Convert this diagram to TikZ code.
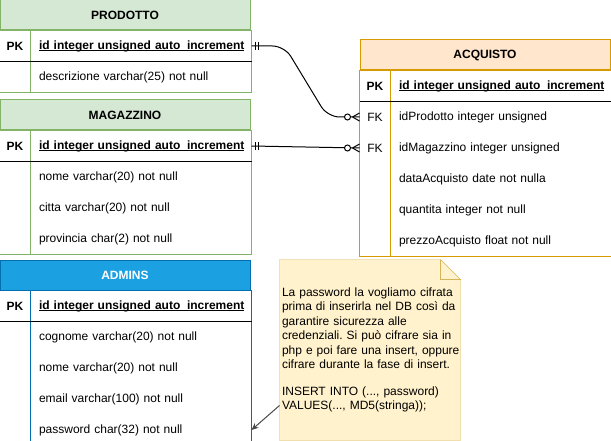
\documentclass[tikz,border=0pt]{standalone}
\usepackage{fontspec}
\setmainfont{Liberation Sans}
\usetikzlibrary{positioning}
\usetikzlibrary{arrows.meta}
\usetikzlibrary{backgrounds}
\definecolor{headgreen}{HTML}{D5E8D4}
\definecolor{linegreen}{HTML}{82B366}
\definecolor{headorange}{HTML}{FFE6CC}
\definecolor{lineorange}{HTML}{D79B00}
\definecolor{headblue}{HTML}{1BA1E2}
\definecolor{lineblue}{HTML}{006EAF}
\definecolor{notefill}{HTML}{FFF2CC}
\definecolor{noteline}{HTML}{D6B656}
% underlined key field
\newcommand{\ulkey}[1]{\setbox0\hbox{#1}\rlap{\rule[-1.6pt]{\wd0}{0.9pt}}\box0}
\tikzset{
    every node/.style={
        font=\fontsize{12}{14.5}\selectfont},
    tabhead/.style={
        draw,
        minimum width=250pt,
        minimum height=30pt,
        inner sep=0pt,
        font=\fontsize{12}{14.5}\selectfont\bfseries},
    keycell/.style={
        minimum width=30pt,
        minimum height=30pt,
        inner sep=0pt},
    fieldcell/.style={
        minimum width=220pt,
        minimum height=30pt,
        inner ysep=0pt,
        inner xsep=8pt,
        text width=204pt,
        align=left},
    notebox/.style={
        minimum width=180pt,
        minimum height=180pt,
        inner xsep=2pt,
        text width=176pt,
        align=left,
        execute at begin node={\hyphenpenalty=10000\frenchspacing}},
    notearrow/.style={
        draw=black!70,
        -{Stealth[length=7pt,width=6pt,fill=black]}},
    mandone/.pic={
        \draw (4,-4) -- (4,4) (7,-4) -- (7,4);},
    zeromany/.pic={
        \draw (-7,0) -- (0,-4) (-7,0) -- (0,4);
        \draw[fill=white] (-12,0) circle[radius=3];}}

\begin{document}
\begin{tikzpicture}[x=1pt,y=-1pt,line width=1pt]
    \useasboundingbox (0,0) rectangle (611,441);

    % PRODOTTO
    \node[tabhead, fill=headgreen, draw=linegreen] (prod) at (125,15) {PRODOTTO};
    \node[keycell, anchor=north west] (pk0) at (prod.south west) {\textbf{PK}};
    \node[fieldcell, right=0pt of pk0] (pf0) {\textbf{\ulkey{id integer unsigned auto\_increment}}};
    \node[keycell, below=0pt of pk0] (pk1) {};
    \node[fieldcell, right=0pt of pk1] (pf1) {descrizione varchar(25) not null};
    \draw[linegreen] (prod.south west) rectangle (pf1.south east);
    \draw[linegreen] (pk0.north east) -- (pk1.south east);
    \draw (pk0.south west) -- (pf0.south east);

    % MAGAZZINO
    \node[tabhead, fill=headgreen, draw=linegreen] (mag) at (125,115) {MAGAZZINO};
    \node[keycell, anchor=north west] (mk0) at (mag.south west) {\textbf{PK}};
    \node[fieldcell, right=0pt of mk0] (mf0) {\textbf{\ulkey{id integer unsigned auto\_increment}}};
    \foreach \txt [count=\i, remember=\i as \j (initially 0)] in
        {nome varchar(20) not null, citta varchar(20) not null, provincia char(2) not null}{
        \node[keycell, below=0pt of mk\j] (mk\i) {};
        \node[fieldcell, right=0pt of mk\i] (mf\i) {\txt};
    }
    \draw[linegreen] (mag.south west) rectangle (mf3.south east);
    \draw[linegreen] (mk0.north east) -- (mk3.south east);
    \draw (mk0.south west) -- (mf0.south east);

    % ACQUISTO
    \node[tabhead, fill=headorange, draw=lineorange] (acq) at (485,55) {ACQUISTO};
    \node[keycell, anchor=north west] (ak0) at (acq.south west) {\textbf{PK}};
    \node[fieldcell, right=0pt of ak0] (af0) {\textbf{\ulkey{id integer unsigned auto\_increment}}};
    \foreach \key/\txt [count=\i, remember=\i as \j (initially 0)] in
        {FK/idProdotto integer unsigned, FK/idMagazzino integer unsigned,
         /dataAcquisto date not nulla, /quantita integer not null,
         /prezzoAcquisto float not null}{
        \node[keycell, below=0pt of ak\j] (ak\i) {\key};
        \node[fieldcell, right=0pt of ak\i] (af\i) {\txt};
    }
    \draw[lineorange] (acq.south west) rectangle (af5.south east);
    \draw[lineorange] (ak0.north east) -- (ak5.south east);
    \draw (ak0.south west) -- (af0.south east);

    % ADMINS
    \node[tabhead, fill=headblue, draw=lineblue, text=white] (adm) at (125,275) {ADMINS};
    \node[keycell, anchor=north west] (dk0) at (adm.south west) {\textbf{PK}};
    \node[fieldcell, right=0pt of dk0] (df0) {\textbf{\ulkey{id integer unsigned auto\_increment}}};
    \foreach \txt [count=\i, remember=\i as \j (initially 0)] in
        {cognome varchar(20) not null, nome varchar(20) not null,
         email varchar(100) not null, password char(32) not null}{
        \node[keycell, below=0pt of dk\j] (dk\i) {};
        \node[fieldcell, right=0pt of dk\i] (df\i) {\txt};
    }
    \draw[lineblue] (adm.south west) rectangle (df4.south east);
    \draw[lineblue] (dk0.north east) -- (dk4.south east);
    \draw (dk0.south west) -- (df0.south east);

    % relations
    \draw[rounded corners=12pt] (pf0.east) -- ++(33,0) -- ([xshift=-32pt]ak1.west) -- (ak1.west);
    \draw (mf0.east) -- (ak2.west);
    \pic at (pf0.east) {mandone};
    \pic at (mf0.east) {mandone};
    \pic at (ak1.west) {zeromany};
    \pic at (ak2.west) {zeromany};

    % note
    \node[notebox] (note) at (370,350) {La password la vogliamo cifrata\\
        prima di inserirla nel DB così da\\
        garantire sicurezza alle\\
        credenziali. Si può cifrare sia in\\
        \mbox{php e poi fare una insert, oppure}\\
        cifrare durante la fase di insert.\\[12pt]
        INSERT INTO (..., password)\\
        VALUES(..., MD5(stringa));};
    \begin{scope}[on background layer]
        \fill[white] (0,0) rectangle (611,441);
        \filldraw[draw=noteline, fill=notefill] (note.north west) -- ([xshift=-20pt]note.north east)
            -- ([yshift=-20pt]note.north east) -- (note.south east) -- (note.south west) -- cycle;
        \draw[noteline] ([xshift=-20pt]note.north east) -- ([xshift=-20pt,yshift=-20pt]note.north east)
            -- ([yshift=-20pt]note.north east);
    \end{scope}
    \draw[notearrow] ([yshift=35pt]note.south west) -- (df4.east);
\end{tikzpicture}
\end{document}
